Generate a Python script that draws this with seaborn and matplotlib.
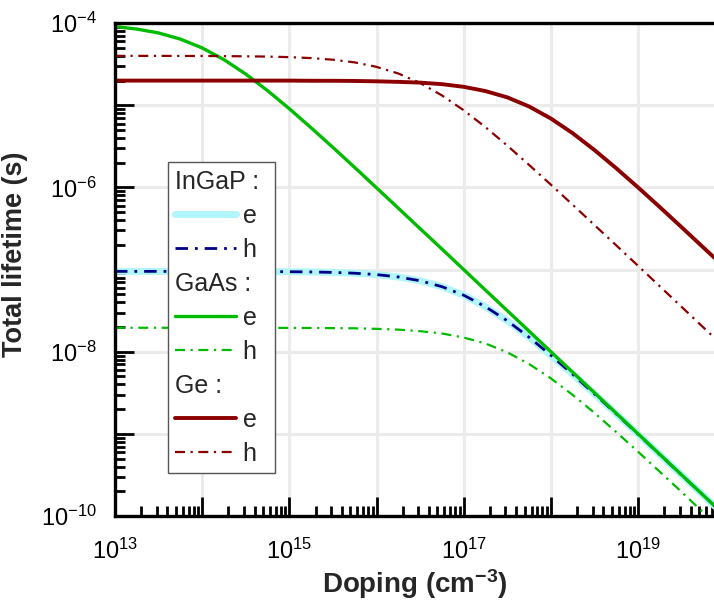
import matplotlib
matplotlib.use("Agg")
import matplotlib.pyplot as plt
import matplotlib.text as mtext
from matplotlib.ticker import LogLocator, FuncFormatter, NullFormatter
import numpy as np
import pandas as pd
import seaborn as sns

# Doping levels, as log10(cm^-3), quarter-decade steps
doping_exp = [13, 13.25, 13.5, 13.75, 14, 14.25, 14.5, 14.75, 15, 15.25,
              15.5, 15.75, 16, 16.25, 16.5, 16.75, 17, 17.25, 17.5, 17.75,
              18, 18.25, 18.5, 18.75, 19, 19.25, 19.5, 19.75, 20]

# Total lifetimes (s)
ingap_e = [9.52e-8, 9.52e-8, 9.52e-8, 9.52e-8, 9.51e-8, 9.51e-8, 9.49e-8, 9.47e-8,
           9.43e-8, 9.37e-8, 9.25e-8, 9.04e-8, 8.70e-8, 8.14e-8, 7.32e-8, 6.20e-8,
           4.88e-8, 3.53e-8, 2.38e-8, 1.50e-8, 9.05e-9, 5.31e-9, 3.06e-9, 1.75e-9,
           9.90e-10, 5.58e-10, 3.15e-10, 1.78e-10, 1.00e-10]
ingap_h = [9.52e-8, 9.52e-8, 9.52e-8, 9.52e-8, 9.51e-8, 9.51e-8, 9.49e-8, 9.47e-8,
           9.43e-8, 9.37e-8, 9.25e-8, 9.04e-8, 8.70e-8, 8.14e-8, 7.32e-8, 6.20e-8,
           4.88e-8, 3.53e-8, 2.38e-8, 1.50e-8, 9.05e-9, 5.31e-9, 3.06e-9, 1.75e-9,
           9.90e-10, 5.58e-10, 3.15e-10, 1.78e-10, 1.00e-10]
gaas_e = [9.09e-5, 8.49e-5, 7.60e-5, 6.40e-5, 5.00e-5, 3.60e-5, 2.40e-5, 1.51e-5,
          9.09e-6, 5.32e-6, 3.07e-6, 1.75e-6, 9.90e-7, 5.59e-7, 3.15e-7, 1.78e-7,
          1.00e-7, 5.62e-8, 3.16e-8, 1.78e-8, 1.00e-8, 5.62e-9, 3.16e-9, 1.78e-9,
          1.00e-9, 5.62e-10, 3.16e-10, 1.78e-10, 1.00e-10]
gaas_h = [1.96e-8, 1.96e-8, 1.96e-8, 1.96e-8, 1.96e-8, 1.96e-8, 1.96e-8, 1.96e-8,
          1.95e-8, 1.95e-8, 1.94e-8, 1.93e-8, 1.90e-8, 1.86e-8, 1.78e-8, 1.67e-8,
          1.49e-8, 1.26e-8, 9.84e-9, 7.09e-9, 4.74e-9, 2.98e-9, 1.80e-9, 1.05e-9,
          6.06e-10, 3.45e-10, 1.96e-10, 1.10e-10, 6.23e-11]
ge_e = [2.00e-5, 2.00e-5, 2.00e-5, 2.00e-5, 2.00e-5, 2.00e-5, 2.00e-5, 2.00e-5,
        2.00e-5, 1.99e-5, 1.99e-5, 1.98e-5, 1.96e-5, 1.93e-5, 1.89e-5, 1.81e-5,
        1.68e-5, 1.49e-5, 1.25e-5, 9.67e-6, 6.90e-6, 4.57e-6, 2.85e-6, 1.71e-6,
        1.00e-6, 5.75e-7, 3.27e-7, 1.85e-7, 1.05e-7]
ge_h = [4.00e-5, 4.00e-5, 4.00e-5, 3.99e-5, 3.99e-5, 3.97e-5, 3.95e-5, 3.92e-5,
        3.86e-5, 3.76e-5, 3.59e-5, 3.33e-5, 2.94e-5, 2.44e-5, 1.87e-5, 1.32e-5,
        8.70e-6, 5.41e-6, 3.23e-6, 1.88e-6, 1.08e-6, 6.15e-7, 3.48e-7, 1.97e-7,
        1.11e-7, 6.24e-8, 3.51e-8, 1.97e-8, 1.11e-8]

DASHDOT = (0, (4.5, 2.5, 1.0, 2.5))


class Header:
    def __init__(self, text):
        self.text = text


class HeaderHandler:
    # puts the material name where the line sample would go
    def legend_artist(self, legend, orig_handle, fontsize, handlebox):
        handlebox.width = 3.45 * fontsize
        t = mtext.Text(-handlebox.xdescent, 0, orig_handle.text,
                       fontsize=fontsize, va="baseline", ha="left")
        handlebox.add_artist(t)
        return t


def main():
    sns.set_style("white")
    plt.rcParams["font.family"] = ["Liberation Sans", "DejaVu Sans"]
    plt.rcParams["mathtext.fontset"] = "custom"
    plt.rcParams["mathtext.rm"] = "Liberation Sans"
    plt.rcParams["mathtext.bf"] = "Liberation Sans:bold"

    fig = plt.figure(figsize=(7.14, 6.10), dpi=100)
    ax = fig.add_axes([0.161, 0.154, 0.839, 0.808])
    ax.set_xscale("log")
    ax.set_yscale("log")

    doping = [10.0 ** e for e in doping_exp]
    series = [
        (ingap_e, "#b0f6fa", 5.0, "-"),
        (ingap_h, "#00008b", 2.0, DASHDOT),
        (gaas_e, "#00bb00", 2.4, "-"),
        (gaas_h, "#00bb00", 1.6, DASHDOT),
        (ge_e, "#8b0000", 2.8, "-"),
        (ge_h, "#8b0000", 1.6, DASHDOT),
    ]
    handles = []
    for vals, color, lw, ls in series:
        df = pd.DataFrame({"doping": doping, "tau": vals})
        sns.lineplot(data=df, x="doping", y="tau", ax=ax, color=color,
                     lw=lw, linestyle=ls)
        handles.append(ax.lines[-1])

    ax.set_xlim(1e13, 10 ** 19.87)
    ax.set_ylim(1e-10, 1e-4)

    ax.xaxis.set_major_locator(LogLocator(base=10, numticks=100))
    ax.yaxis.set_major_locator(LogLocator(base=10, numticks=100))
    ax.xaxis.set_minor_locator(LogLocator(base=10, subs=np.arange(2, 10), numticks=100))
    ax.yaxis.set_minor_locator(LogLocator(base=10, subs=np.arange(2, 10), numticks=100))
    ax.xaxis.set_minor_formatter(NullFormatter())
    ax.yaxis.set_minor_formatter(NullFormatter())

    # label every other decade, and only inside the visible range
    def fmt_x(v, pos):
        e = int(round(np.log10(v)))
        if e % 2 == 1 and 13 <= e <= 19:
            return r"$\mathregular{10^{%d}}$" % e
        return ""

    def fmt_y(v, pos):
        e = int(round(np.log10(v)))
        if e % 2 == 0 and -10 <= e <= -4:
            return r"$\mathregular{10^{%d}}$" % e
        return ""

    ax.xaxis.set_major_formatter(FuncFormatter(fmt_x))
    ax.yaxis.set_major_formatter(FuncFormatter(fmt_y))

    ax.tick_params(which="both", bottom=True, left=True, top=False, right=False)
    ax.tick_params(which="major", direction="in", length=14, width=2,
                   labelsize=17, colors="black")
    ax.tick_params(which="minor", direction="in", length=7.5, width=2,
                   colors="black")
    ax.tick_params(axis="x", which="major", pad=16)
    ax.tick_params(axis="y", which="major", pad=13)

    ax.grid(True, which="major", color="#ebebeb", lw=2.2)
    ax.grid(False, which="minor")
    ax.set_axisbelow(True)

    for side in ["left", "bottom", "top"]:
        ax.spines[side].set_visible(True)
        ax.spines[side].set_linewidth(2.4)
        ax.spines[side].set_color("black")
    ax.spines["right"].set_visible(False)

    ax.set_xlabel(r"Doping (cm$\mathregular{^{-3}}$)", fontsize=20,
                  fontweight="bold", labelpad=3)
    ax.set_ylabel("Total lifetime (s)", fontsize=19.5, fontweight="bold")
    ax.yaxis.set_label_coords(-0.145, 0.531)

    leg_handles = [Header("InGaP :"), handles[0], handles[1],
                   Header("GaAs :"), handles[2], handles[3],
                   Header("Ge :"), handles[4], handles[5]]
    leg_labels = ["", "e", "h", "", "e", "h", "", "e", "h"]
    leg = ax.legend(leg_handles, leg_labels, handler_map={Header: HeaderHandler()},
                    loc="upper left", bbox_to_anchor=(0.088, 0.718),
                    borderaxespad=0, fontsize=18, handlelength=2.45,
                    handletextpad=0.25, labelspacing=0.4, borderpad=0.3,
                    frameon=True, fancybox=False, framealpha=1,
                    edgecolor="#555555")
    leg.get_frame().set_linewidth(1.0)

    fig.savefig("out.png", dpi=100)


if __name__ == "__main__":
    main()
